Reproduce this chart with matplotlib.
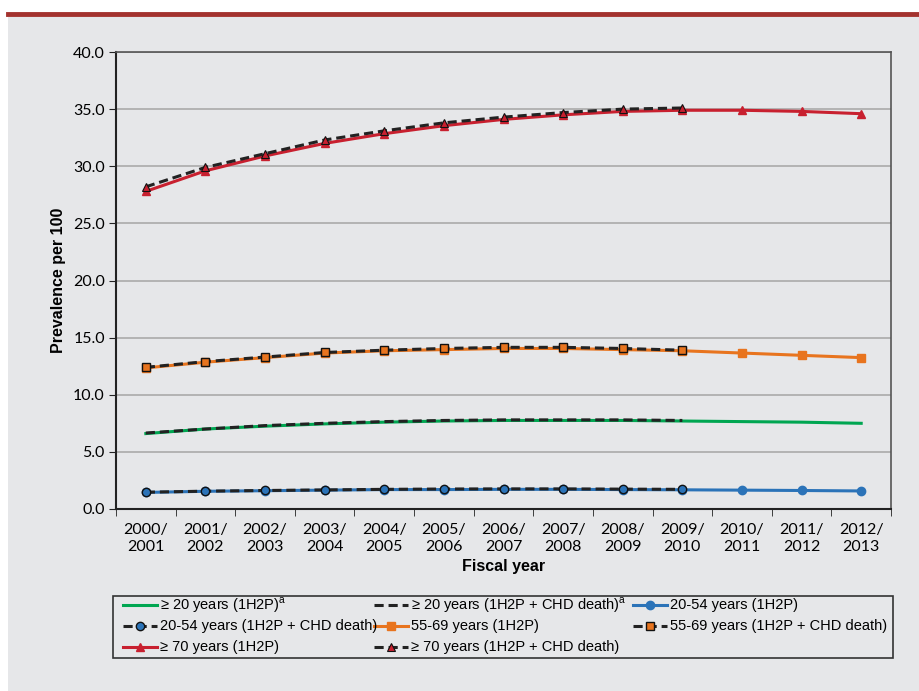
import numpy as np
import matplotlib.pyplot as plt
from matplotlib.patches import Rectangle
from matplotlib.lines import Line2D

# --- Données ---
years = ["2000/\n2001", "2001/\n2002", "2002/\n2003", "2003/\n2004", "2004/\n2005",
         "2005/\n2006", "2006/\n2007", "2007/\n2008", "2008/\n2009", "2009/\n2010",
         "2010/\n2011", "2011/\n2012", "2012/\n2013"]

all20 = [6.6, 7.0, 7.25, 7.45, 7.6, 7.7, 7.75, 7.75, 7.75, 7.7, 7.65, 7.6, 7.5]
all20_chd = [6.65, 7.0, 7.3, 7.5, 7.65, 7.75, 7.8, 7.8, 7.8, 7.75]
age20_54 = [1.45, 1.55, 1.6, 1.65, 1.7, 1.7, 1.72, 1.72, 1.7, 1.68, 1.65, 1.62, 1.58]
age20_54_chd = [1.47, 1.56, 1.62, 1.67, 1.72, 1.75, 1.76, 1.76, 1.74, 1.72]
age55_69 = [12.35, 12.85, 13.25, 13.65, 13.85, 13.95, 14.05, 14.05, 13.95, 13.85, 13.65, 13.45, 13.25]
age55_69_chd = [12.4, 12.9, 13.3, 13.7, 13.9, 14.05, 14.15, 14.15, 14.05, 13.9]
age70 = [27.8, 29.6, 30.9, 32.0, 32.85, 33.55, 34.1, 34.5, 34.8, 34.9, 34.9, 34.8, 34.6]
age70_chd = [28.2, 29.9, 31.1, 32.3, 33.1, 33.8, 34.3, 34.7, 35.0, 35.1]

green = "#00A651"
blue = "#2B73B8"
orange = "#E8741E"
red = "#C8202F"
bg = "#E6E7E9"
dark = "#222222"

plt.rcParams['font.family'] = ['Liberation Sans', 'DejaVu Sans']

W, H = 919, 691
fig = plt.figure(figsize=(W/100, H/100), dpi=100, facecolor="white")
fig.patches.append(Rectangle((8/W, 0), 1, (H-17)/H, transform=fig.transFigure,
                             facecolor=bg, edgecolor="none", zorder=-5))
fig.add_artist(Line2D([8/W, 1], [(H-14)/H]*2, transform=fig.transFigure,
                      color="#A3322E", lw=3.5))

ax = fig.add_axes([116/W, (H-509)/H, (891-116)/W, (509-52)/H])
ax.set_facecolor(bg)

x = np.arange(len(years))
xc = np.arange(len(all20_chd))
dash = (0, (3, 1.6))

# styles des séries
st_all20 = dict(color=green, lw=2.2)
st_all20_chd = dict(color=dark, lw=2.2, ls=dash)
st_2054 = dict(color=blue, lw=2.2, marker="o", ms=6, mec=blue)
st_2054_chd = dict(color=dark, lw=2.2, ls=dash, marker="o", ms=6, mfc=blue, mec="#111111", mew=1.0)
st_5569 = dict(color=orange, lw=2.2, marker="s", ms=6, mec=orange)
st_5569_chd = dict(color=dark, lw=2.2, ls=dash, marker="s", ms=6, mfc=orange, mec="#111111", mew=1.0)
st_70 = dict(color=red, lw=2.2, marker="^", ms=6, mec=red)
st_70_chd = dict(color=dark, lw=2.2, ls=dash, marker="^", ms=6, mfc=red, mec="#111111", mew=0.8)

ax.plot(x, all20, zorder=3, **st_all20)
ax.plot(xc, all20_chd, zorder=4, **st_all20_chd)
ax.plot(x, age20_54, zorder=3, **st_2054)
ax.plot(xc, age20_54_chd, zorder=4, **st_2054_chd)
ax.plot(x, age55_69, zorder=3, **st_5569)
ax.plot(xc, age55_69_chd, zorder=4, **st_5569_chd)
ax.plot(x, age70, zorder=3, **st_70)
ax.plot(xc, age70_chd, zorder=4, **st_70_chd)

ax.set_xlim(-0.5, len(years) - 0.5)
ax.set_ylim(0, 40)
yt = np.arange(0, 40.1, 5)
ax.set_yticks(yt)
ax.set_yticklabels([f"{v:.1f}" for v in yt],
                   fontdict={"family": ["Lato", "DejaVu Sans"], "size": 11.5})
ax.set_xticks(x)
ax.set_xticklabels(years, fontdict={"family": ["Lato", "DejaVu Sans"], "size": 11.5},
                   linespacing=1.25)
ax.set_xticks(np.arange(-0.5, len(years)), minor=True)
ax.tick_params(axis="x", which="major", length=0, pad=10)
ax.tick_params(axis="x", which="minor", length=5, direction="out", color=dark)
ax.tick_params(axis="y", length=5, direction="out", color=dark, pad=3)
ax.grid(axis="y", color="#AAAAAA", lw=1.2)
ax.set_axisbelow(True)
for s in ["top", "right"]:
    ax.spines[s].set_color("#555555")
    ax.spines[s].set_linewidth(1.2)
for s in ["left", "bottom"]:
    ax.spines[s].set_color(dark)
    ax.spines[s].set_linewidth(1.5)

ax.set_ylabel("Prevalence per 100", fontsize=11.5, fontweight="bold", labelpad=5)
ax.set_xlabel("Fiscal year", fontsize=11.5, fontweight="bold", labelpad=4)

# --- Légende (placée à la main, 3 colonnes) ---
fig.patches.append(Rectangle((113/W, (H-658)/H), (893-113)/W, 62/H, transform=fig.transFigure,
                             facecolor=bg, edgecolor="#333333", lw=1.2, zorder=1))
entries = [
    (st_all20, "≥ 20 years (1H2P)$^\\mathregular{a}$"),
    (st_all20_chd, "≥ 20 years (1H2P + CHD death)$^\\mathregular{a}$"),
    (st_2054, "20-54 years (1H2P)"),
    (st_2054_chd, "20-54 years (1H2P + CHD death)"),
    (st_5569, "55-69 years (1H2P)"),
    (st_5569_chd, "55-69 years (1H2P + CHD death)"),
    (st_70, "≥ 70 years (1H2P)"),
    (st_70_chd, "≥ 70 years (1H2P + CHD death)"),
]
col_x = [123, 374, 633]
row_y = [605, 626, 647]
for i, (st, lab) in enumerate(entries):
    cx, cy = col_x[i % 3], row_y[i // 3]
    hx = np.array([cx, cx + 17, cx + 34]) / W
    hy = np.full(3, (H - cy) / H)
    fig.add_artist(Line2D(hx, hy, transform=fig.transFigure, markevery=[1], zorder=2, **st))
    fig.text((cx + 37) / W, (H - cy) / H, lab, fontsize=10.5, va="center", ha="left", zorder=2)

fig.savefig("out.png", dpi=100, facecolor=fig.get_facecolor())
